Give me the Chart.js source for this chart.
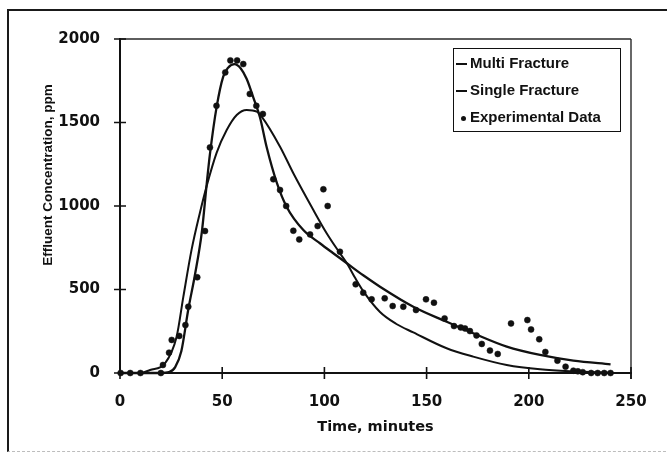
<!DOCTYPE html>
<html>
<head>
<meta charset="utf-8">
<title>Effluent Concentration</title>
<script src="https://cdn.jsdelivr.net/npm/chart.js@4/dist/chart.umd.min.js"></script>
<style>
  html, body { margin:0; padding:0; background:#fff; }
  #wrap { position:relative; width:667px; height:453px; overflow:hidden; }
  #chart { position:absolute; left:0; top:0; }
  .frame { position:absolute; left:7px; top:9px; right:-4px; bottom:1px;
           border-left:2px solid #1a1a1a; border-top:2px solid #1a1a1a; border-bottom:1px dashed #bdbdbd;
           pointer-events:none; }
  #ytitle { position:absolute; left:47px; top:175px; transform:translate(-50%,-50%) rotate(-90deg);
            white-space:nowrap; font:bold 13.5px "Liberation Sans", Arial, sans-serif; color:#111; }
  #legend { position:absolute; left:453px; top:48px; width:166px; height:82px;
            border:1.5px solid #111; background:#fff; font:bold 15px "Liberation Sans", Arial, sans-serif; color:#111; }
  .row { position:absolute; left:0; height:20px; line-height:20px; white-space:nowrap; }
  .row .txt { position:absolute; left:16px; top:0; }
  .dash { position:absolute; left:2px; top:10px; width:11px; height:2px; background:#111; }
  .dot { position:absolute; left:7px; top:9px; width:5px; height:5px; border-radius:50%; background:#111; }
</style>
</head>
<body>
<div id="wrap">
  <canvas id="chart" width="667" height="453"></canvas>
  <div class="frame"></div>
  <div id="ytitle">Effluent Concentration, ppm</div>
  <div id="legend">
    <div class="row" style="top:4px"><span class="dash"></span><span class="txt">Multi Fracture</span></div>
    <div class="row" style="top:31px"><span class="dash"></span><span class="txt">Single Fracture</span></div>
    <div class="row" style="top:58px"><span class="dot"></span><span class="txt">Experimental Data</span></div>
  </div>
</div>
<script>
/* ---------- data ---------- */
const xTicks = [0, 50, 100, 150, 200, 250];
const yTicks = [0, 500, 1000, 1500, 2000];

const multiTime = [0, 20, 24, 27, 30, 33.4, 36.7, 40, 42.4, 44, 47.3, 50.5, 53, 56, 59, 62, 65.2, 68.5, 71.8, 76.7, 81.5, 89.7, 97.8, 104, 111, 119, 127.2, 143.5, 159.8, 172.8, 189.2, 205.5, 221.8, 240];
const multiConc = [0, 0, 5, 35, 130, 380, 590, 840, 1130, 1310, 1595, 1775, 1830, 1850, 1825, 1760, 1650, 1530, 1350, 1140, 996, 856, 777, 720, 657, 585, 517, 397, 307, 238, 158, 108, 74, 52];

const singleTime = [0, 10, 14.7, 22, 27.7, 31, 35, 39.1, 42.4, 47.3, 52.2, 57.1, 62, 66.9, 69.3, 78.3, 84.8, 94.6, 101.1, 107.6, 111, 115, 119, 127.2, 135, 143.5, 159.8, 172.8, 189.2, 205.5, 221.8, 240];
const singleConc = [0, 0, 18, 58, 217, 457, 737, 960, 1120, 1320, 1455, 1545, 1575, 1565, 1535, 1355, 1196, 976, 837, 717, 657, 570, 490, 365, 295, 243, 148, 98, 48, 22, 10, 3];

const expTime = [0.3, 5, 10, 20, 21, 24, 25.3, 29, 32, 33.4, 37.8, 41.6, 44, 47.2, 51.5, 54, 57.3, 60.3, 63.5, 66.7, 69.9, 75, 78.3, 81.3, 84.8, 87.7, 93, 96.7, 99.5, 101.6, 107.6, 115.3, 119, 123.1, 129.5, 133.4, 138.6, 144.8, 149.7, 153.6, 158.8, 163.4, 166.7, 168.8, 171.2, 174.4, 177, 181, 184.8, 191.3, 199.3, 201.1, 205.1, 208.1, 214, 218, 221.8, 224, 226.4, 230.5, 233.7, 236.9, 240];
const expConc = [0, 0, 0, 0, 48, 122, 198, 222, 287, 397, 573, 850, 1351, 1600, 1800, 1872, 1872, 1850, 1671, 1600, 1551, 1160, 1096, 1000, 852, 800, 830, 880, 1100, 1000, 726, 531, 481, 441, 447, 401, 397, 377, 441, 421, 327, 281, 273, 267, 251, 225, 174, 134, 114, 297, 317, 261, 202, 126, 74, 38, 14, 10, 5, 0, 0, 0, 0];

const pts = (xs, ys) => xs.map((x, i) => ({ x, y: ys[i] }));

/* ---------- plot frame + crossing tick marks ---------- */
const frameTicks = {
  id: 'frameTicks',
  afterDraw(chart) {
    const { ctx, scales: { x, y }, chartArea: a } = chart;
    ctx.save();
    ctx.strokeStyle = '#2a2a2a';
    ctx.lineWidth = 1.4;
    ctx.beginPath();
    ctx.moveTo(a.left, a.top); ctx.lineTo(a.right, a.top);
    ctx.moveTo(a.right, a.top); ctx.lineTo(a.right, a.bottom + 6);
    ctx.stroke();
    ctx.strokeStyle = '#111';
    ctx.lineWidth = 1.6;
    ctx.beginPath();
    yTicks.forEach(v => { const p = y.getPixelForValue(v); ctx.moveTo(a.left - 6, p); ctx.lineTo(a.left + 6, p); });
    xTicks.forEach(v => { const p = x.getPixelForValue(v); ctx.moveTo(p, a.bottom - 6); ctx.lineTo(p, a.bottom + 6); });
    ctx.stroke();
    ctx.restore();
  }
};

const tickFont = { family: 'DejaVu Sans', weight: 'bold', size: 15 };

new Chart(document.getElementById('chart'), {
  type: 'scatter',
  data: {
    datasets: [
      { label: 'Multi Fracture', data: pts(multiTime, multiConc), showLine: true, pointRadius: 0,
        borderColor: '#111', borderWidth: 2.3, cubicInterpolationMode: 'monotone', clip: false },
      { label: 'Single Fracture', data: pts(singleTime, singleConc), showLine: true, pointRadius: 0,
        borderColor: '#111', borderWidth: 2, cubicInterpolationMode: 'monotone', clip: false },
      { label: 'Experimental Data', data: pts(expTime, expConc), showLine: false, pointRadius: 3,
        pointBackgroundColor: '#111', pointBorderColor: '#111', pointBorderWidth: 0.5, clip: false }
    ]
  },
  options: {
    responsive: false,
    animation: false,
    devicePixelRatio: 1,
    layout: { padding: { top: 39, right: 36, left: 0, bottom: 0 } },
    plugins: { legend: { display: false }, tooltip: { enabled: false } },
    scales: {
      x: {
        type: 'linear', min: 0, max: 250,
        afterFit: s => { s.height = 80; },
        afterBuildTicks: s => { s.ticks = xTicks.map(v => ({ value: v })); },
        grid: { display: false, drawTicks: false },
        border: { display: true, color: '#111', width: 2 },
        ticks: { color: '#111', font: tickFont, padding: 20, maxRotation: 0, callback: v => String(v) },
        title: { display: true, text: 'Time, minutes', color: '#111',
                 font: { family: 'DejaVu Sans', weight: 'bold', size: 14.5 }, padding: { top: 0, bottom: 17 } }
      },
      y: {
        min: 0, max: 2000,
        afterFit: s => { s.width = 120; },
        afterBuildTicks: s => { s.ticks = yTicks.map(v => ({ value: v })); },
        grid: { display: false, drawTicks: false },
        border: { display: true, color: '#111', width: 2 },
        ticks: { color: '#111', font: tickFont, padding: 20, callback: v => String(v) }
      }
    }
  },
  plugins: [frameTicks]
});
</script>
</body>
</html>
